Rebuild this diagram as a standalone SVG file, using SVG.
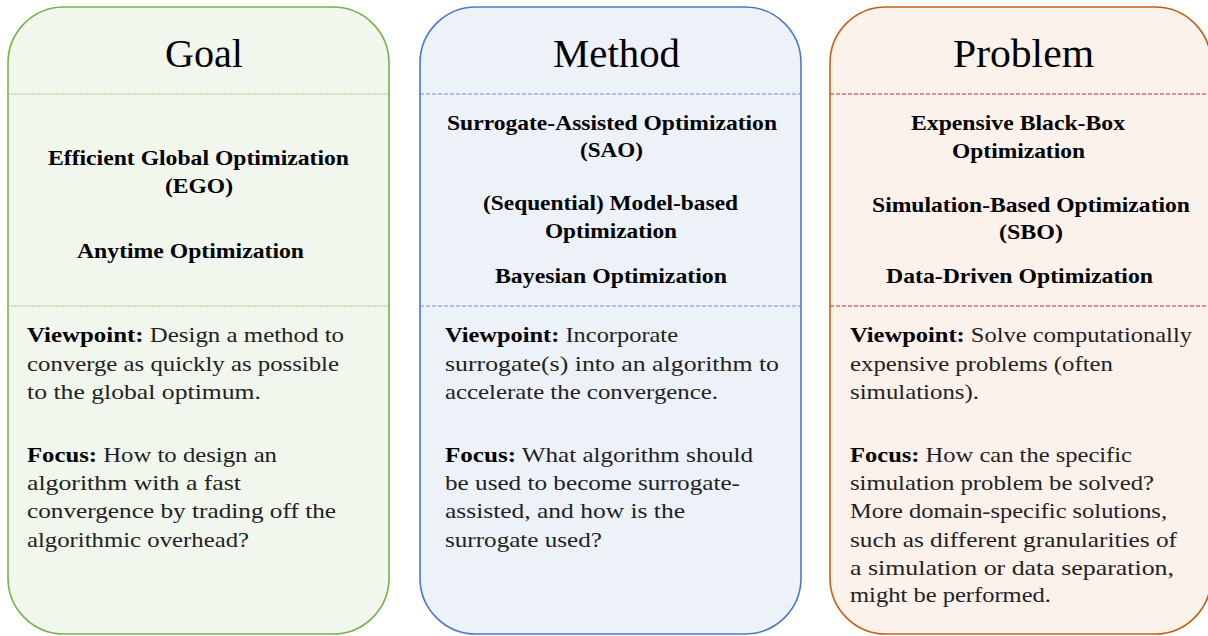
<svg xmlns="http://www.w3.org/2000/svg" width="1208" height="636" viewBox="0 0 1208 636">
  <style>
    .title { font-family: "Liberation Serif", "DejaVu Serif", serif; font-size: 40px; fill: #000; }
    .item { font-family: "Liberation Serif", "DejaVu Serif", serif; font-size: 21px; font-weight: bold; fill: #000; }
    .body { font-family: "Liberation Serif", "DejaVu Serif", serif; font-size: 22px; fill: #222; }
    .body tspan.b { font-weight: bold; fill: #000; }
    .card { stroke-width: 1.6; }
    .goal .card { fill: #f1f7ec; stroke: #77b24a; }
    .method .card { fill: #edf2f9; stroke: #4a78c8; }
    .problem .card { fill: #fbf2ec; stroke: #c55f17; }
    .goal .sep { stroke: #9ccd7e; stroke-width: 1; stroke-dasharray: 2 1; }
    .method .sep { stroke: #6b93d6; stroke-width: 1; stroke-dasharray: 4 2; }
    .problem .sep { stroke: #d9262c; stroke-width: 1; stroke-dasharray: 4 2; }
  </style>
  <rect width="1208" height="636" fill="#ffffff"/>

  <!-- Goal column -->
  <g id="goal" class="goal">
    <rect class="card" x="8" y="7" width="381" height="627" rx="56" ry="56"/>
    <line class="sep" x1="8" y1="94" x2="389" y2="94"/>
    <line class="sep" x1="8" y1="306" x2="389" y2="306"/>
    <text class="title" x="165" y="67" textLength="78" lengthAdjust="spacingAndGlyphs">Goal</text>
    <text class="item" x="48" y="165" textLength="301" lengthAdjust="spacingAndGlyphs">Efficient Global Optimization</text>
    <text class="item" x="165" y="193" textLength="68" lengthAdjust="spacingAndGlyphs">(EGO)</text>
    <text class="item" x="77" y="258" textLength="227" lengthAdjust="spacingAndGlyphs">Anytime Optimization</text>
    <text class="body" x="27" y="342" textLength="317" lengthAdjust="spacingAndGlyphs"><tspan class="b">Viewpoint:</tspan> Design a method to</text>
    <text class="body" x="27" y="371" textLength="312" lengthAdjust="spacingAndGlyphs">converge as quickly as possible</text>
    <text class="body" x="27" y="399" textLength="234" lengthAdjust="spacingAndGlyphs">to the global optimum.</text>
    <text class="body" x="27" y="462" textLength="250" lengthAdjust="spacingAndGlyphs"><tspan class="b">Focus:</tspan> How to design an</text>
    <text class="body" x="27" y="490" textLength="214" lengthAdjust="spacingAndGlyphs">algorithm with a fast</text>
    <text class="body" x="27" y="518" textLength="309" lengthAdjust="spacingAndGlyphs">convergence by trading off the</text>
    <text class="body" x="27" y="547" textLength="222" lengthAdjust="spacingAndGlyphs">algorithmic overhead?</text>
  </g>

  <!-- Method column -->
  <g id="method" class="method">
    <rect class="card" x="420" y="7" width="381" height="627" rx="56" ry="56"/>
    <line class="sep" x1="420" y1="94" x2="801" y2="94"/>
    <line class="sep" x1="420" y1="306" x2="801" y2="306"/>
    <text class="title" x="553" y="67" textLength="127" lengthAdjust="spacingAndGlyphs">Method</text>
    <text class="item" x="447" y="130" textLength="330" lengthAdjust="spacingAndGlyphs">Surrogate-Assisted Optimization</text>
    <text class="item" x="580" y="157" textLength="63" lengthAdjust="spacingAndGlyphs">(SAO)</text>
    <text class="item" x="483" y="210" textLength="255" lengthAdjust="spacingAndGlyphs">(Sequential) Model-based</text>
    <text class="item" x="545" y="238" textLength="132" lengthAdjust="spacingAndGlyphs">Optimization</text>
    <text class="item" x="495" y="283" textLength="232" lengthAdjust="spacingAndGlyphs">Bayesian Optimization</text>
    <text class="body" x="445" y="342" textLength="233" lengthAdjust="spacingAndGlyphs"><tspan class="b">Viewpoint:</tspan> Incorporate</text>
    <text class="body" x="445" y="371" textLength="334" lengthAdjust="spacingAndGlyphs">surrogate(s) into an algorithm to</text>
    <text class="body" x="445" y="399" textLength="273" lengthAdjust="spacingAndGlyphs">accelerate the convergence.</text>
    <text class="body" x="445" y="462" textLength="308" lengthAdjust="spacingAndGlyphs"><tspan class="b">Focus:</tspan> What algorithm should</text>
    <text class="body" x="445" y="490" textLength="295" lengthAdjust="spacingAndGlyphs">be used to become surrogate-</text>
    <text class="body" x="445" y="518" textLength="240" lengthAdjust="spacingAndGlyphs">assisted, and how is the</text>
    <text class="body" x="445" y="547" textLength="157" lengthAdjust="spacingAndGlyphs">surrogate used?</text>
  </g>

  <!-- Problem column (runs past the right edge) -->
  <g id="problem" class="problem">
    <rect class="card" x="830" y="7" width="381" height="627" rx="56" ry="56"/>
    <line class="sep" x1="830" y1="94" x2="1211" y2="94"/>
    <line class="sep" x1="830" y1="306" x2="1211" y2="306"/>
    <text class="title" x="953" y="67" textLength="141" lengthAdjust="spacingAndGlyphs">Problem</text>
    <text class="item" x="911" y="130" textLength="214" lengthAdjust="spacingAndGlyphs">Expensive Black-Box</text>
    <text class="item" x="952" y="158" textLength="133" lengthAdjust="spacingAndGlyphs">Optimization</text>
    <text class="item" x="872" y="212" textLength="318" lengthAdjust="spacingAndGlyphs">Simulation-Based Optimization</text>
    <text class="item" x="999" y="239" textLength="64" lengthAdjust="spacingAndGlyphs">(SBO)</text>
    <text class="item" x="886" y="283" textLength="267" lengthAdjust="spacingAndGlyphs">Data-Driven Optimization</text>
    <text class="body" x="850" y="342" textLength="342" lengthAdjust="spacingAndGlyphs"><tspan class="b">Viewpoint:</tspan> Solve computationally</text>
    <text class="body" x="850" y="371" textLength="263" lengthAdjust="spacingAndGlyphs">expensive problems (often</text>
    <text class="body" x="850" y="399" textLength="129" lengthAdjust="spacingAndGlyphs">simulations).</text>
    <text class="body" x="850" y="462" textLength="282" lengthAdjust="spacingAndGlyphs"><tspan class="b">Focus:</tspan> How can the specific</text>
    <text class="body" x="850" y="490" textLength="304" lengthAdjust="spacingAndGlyphs">simulation problem be solved?</text>
    <text class="body" x="850" y="518" textLength="317" lengthAdjust="spacingAndGlyphs">More domain-specific solutions,</text>
    <text class="body" x="850" y="547" textLength="327" lengthAdjust="spacingAndGlyphs">such as different granularities of</text>
    <text class="body" x="850" y="575" textLength="324" lengthAdjust="spacingAndGlyphs">a simulation or data separation,</text>
    <text class="body" x="850" y="602" textLength="201" lengthAdjust="spacingAndGlyphs">might be performed.</text>
  </g>
</svg>
